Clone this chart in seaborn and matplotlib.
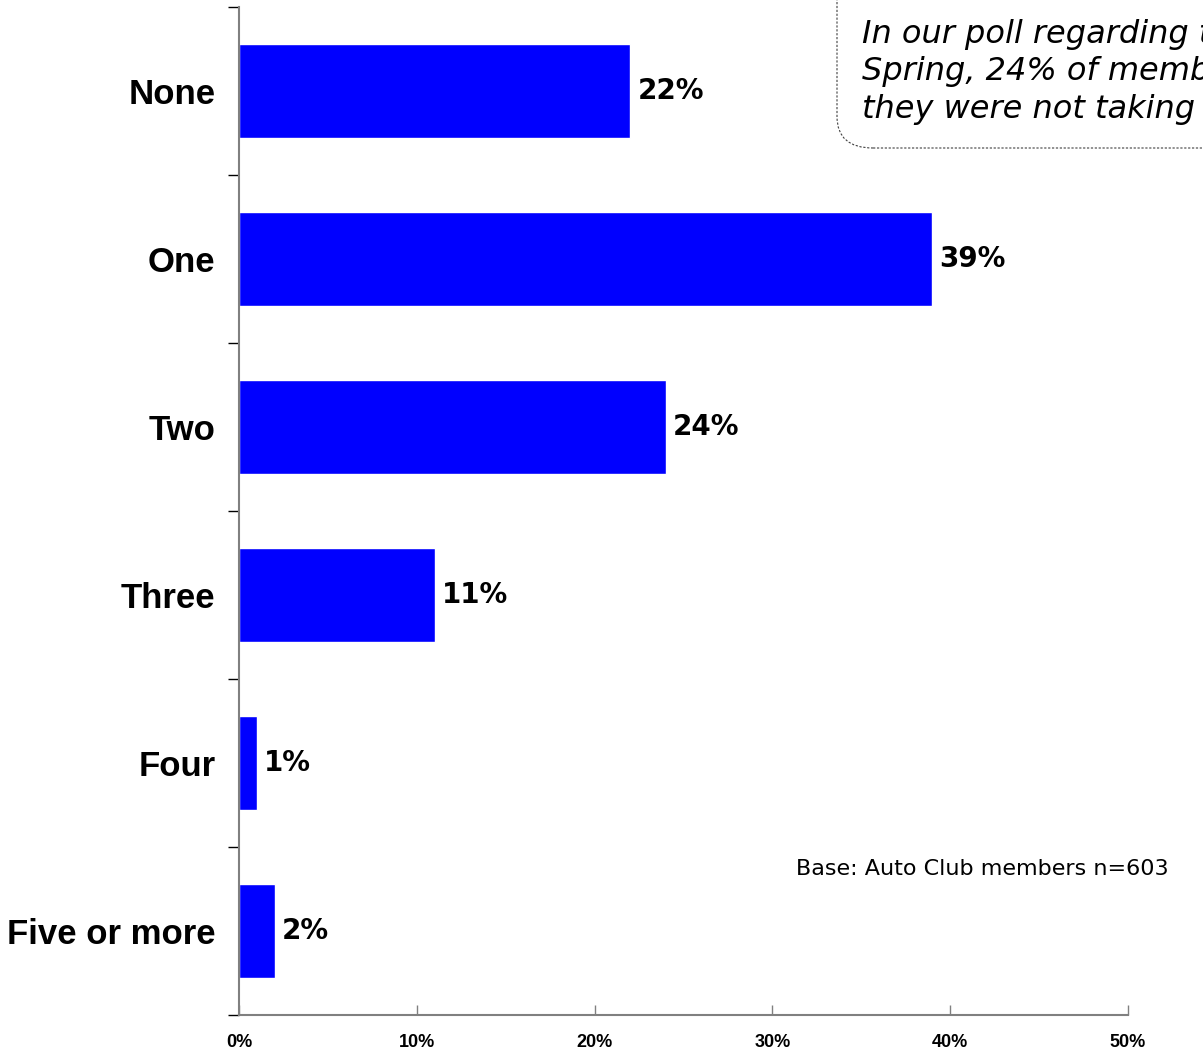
import matplotlib
matplotlib.use("Agg")
import matplotlib.pyplot as plt
from matplotlib.patches import FancyBboxPatch
import pandas as pd
import seaborn as sns

categories = ["None", "One", "Two", "Three", "Four", "Five or more"]
percents = [22, 39, 24, 11, 1, 2]
x_ticks = [0, 10, 20, 30, 40, 50]
x_tick_labels = ["0%", "10%", "20%", "30%", "40%", "50%"]
callout = ("In our poll regarding travel plans this\n"
           "Spring, 24% of members said\n"
           "they were not taking a trip.")
base_note = "Base: Auto Club members n=603"

df = pd.DataFrame({"category": categories, "percent": percents})

sns.set_style("white")
plt.rcParams["font.family"] = ["DejaVu Sans"]
plt.rcParams["text.color"] = "black"
plt.rcParams["xtick.color"] = "black"
plt.rcParams["ytick.color"] = "black"

fig = plt.figure(figsize=(12.03, 10.52), dpi=100)
ax = fig.add_axes([239 / 1203, 1 - 1015 / 1052, (1128 - 239) / 1203, (1015 - 7) / 1052])

sns.barplot(data=df, x="percent", y="category", orient="h", color="#0000FF",
            saturation=1, width=0.56, ax=ax)

for i, v in enumerate(percents):
    ax.text(v + 0.4, i, f"{v}%", va="center", ha="left", fontsize=20,
            fontweight="bold", color="black")

ax.set_xlim(0, 50)
ax.set_ylim(len(categories) - 0.5, -0.5)
ax.set_xlabel("")
ax.set_ylabel("")

# x axis: ticks pointing up, bold narrow labels
ax.set_xticks(x_ticks)
ax.set_xticklabels(x_tick_labels, fontfamily="Liberation Sans", fontweight="bold",
                   fontsize=13, color="black")
ax.tick_params(axis="x", bottom=True, direction="in", length=7, width=1,
               color="#808080", pad=14)

# y axis: ticks at category boundaries, labels centred on bars
ax.set_yticks([i - 0.5 for i in range(len(categories) + 1)], minor=False)
ax.set_yticklabels([])
ax.set_yticks(range(len(categories)), minor=True)
ax.set_yticklabels(categories, minor=True, fontfamily="Liberation Sans",
                   fontweight="bold", fontsize=25, color="black")
ax.tick_params(axis="y", which="major", left=True, direction="out", length=8,
               width=1, color="black")
ax.tick_params(axis="y", which="minor", left=True, length=0, pad=17)

for side in ["top", "right"]:
    ax.spines[side].set_visible(False)
for side in ["left", "bottom"]:
    ax.spines[side].set_color("#808080")
    ax.spines[side].set_linewidth(1.5)

# callout box, running off the right edge
box = FancyBboxPatch((837 / 1203, 1 - 148 / 1052), 0.4, 0.2,
                     boxstyle="round,pad=0,rounding_size=0.03",
                     transform=fig.transFigure, facecolor="white",
                     edgecolor="#404040", linestyle=(0, (2, 1.5)), linewidth=0.8)
fig.patches.append(box)
fig.text(862 / 1203, 1 - 19 / 1052, callout, ha="left", va="top", fontsize=23,
         fontstyle="italic", linespacing=1.27, color="black")

fig.text(796 / 1203, 1 - 869 / 1052, base_note, ha="left", va="center", fontsize=16,
         color="black")

fig.savefig("out.png", dpi=100)
